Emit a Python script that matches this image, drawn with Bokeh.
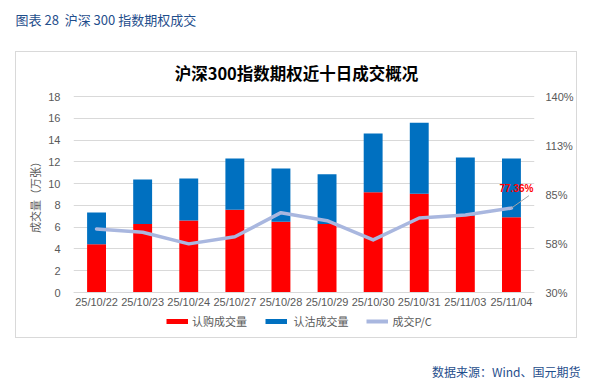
from bokeh.plotting import figure
from bokeh.models import (ColumnDataSource, FactorRange, Range1d, LinearAxis, FixedTicker,
                          Legend, LegendItem, Title, Label)
from bokeh.transform import dodge
from bokeh.core.properties import value
from bokeh.embed import file_html
from bokeh.resources import INLINE

# ---- data ----
dates = ["25/10/22", "25/10/23", "25/10/24", "25/10/27", "25/10/28",
         "25/10/29", "25/10/30", "25/10/31", "25/11/03", "25/11/04"]
call_vol = [4.43, 6.30, 6.62, 7.60, 6.50, 6.29, 9.20, 9.08, 7.05, 6.90]
put_vol = [2.91, 4.07, 3.85, 4.70, 4.88, 4.57, 5.40, 6.52, 5.34, 5.40]
pc_ratio = [65.7, 63.8, 57.3, 61.3, 74.8, 70.3, 59.5, 71.8, 73.5, 77.36]
left_ticks = [0, 2, 4, 6, 8, 10, 12, 14, 16, 18]
right_ticks = [30, 57.5, 85, 112.5, 140]
right_tick_labels = ["30%", "58%", "85%", "113%", "140%"]

CJK = "Noto Sans CJK SC"
LAT = "Liberation Sans"
GRAY = "#595959"
GRID = "#d9d9d9"
RED = "#ff0000"
BLUE = "#0070c0"
LINEC = "#a9b7df"
NAVY = "#1f4e8c"

# ---- layout (pixels) ----
W, H = 593, 383
FRAME_TOP, FRAME_BOT = 51, 337          # frame spans the boxed area vertically
AX_TOP, AX_BOT = 96, 292                # where 18 / 0 (and 140% / 30%) sit
L_LO, L_HI = left_ticks[0], left_ticks[-1]
R_LO, R_HI = right_ticks[0], right_ticks[-1]
lpp = (L_HI - L_LO) / (AX_BOT - AX_TOP)
rpp = (R_HI - R_LO) / (AX_BOT - AX_TOP)

src = ColumnDataSource(dict(date=dates, call=call_vol, put=put_vol, pc=pc_ratio,
                            none=[float("nan")] * len(dates)))

p = figure(width=W, height=H, x_range=FactorRange(*dates, range_padding=0),
           y_range=Range1d(L_LO - (FRAME_BOT - AX_BOT) * lpp, L_HI + (AX_TOP - FRAME_TOP) * lpp),
           output_backend="svg", toolbar_location=None,
           min_border_left=73, min_border_right=59,
           min_border_top=FRAME_TOP, min_border_bottom=H - FRAME_BOT)
p.outline_line_color = None
p.background_fill_color = None
p.border_fill_color = None
g = "linear-gradient(#d9d9d9,#d9d9d9)"
p.styles = {
    "background": (f"{g} 15px 51px / 562px 1px no-repeat, "
                   f"{g} 15px 337px / 562px 1px no-repeat, "
                   f"{g} 15px 51px / 1px 287px no-repeat, "
                   f"{g} 576px 51px / 1px 287px no-repeat, white"),
}

# heading (outermost title) + spacer
p.title.text = "图表 28\u00a0\u00a0沪深 300 指数期权成交"
p.title.align = "left"
p.title.offset = -58
p.title.vertical_align = "top"
p.title.standoff = 0
p.title.text_font = CJK
p.title.text_font_size = "13px"
p.title.text_font_style = "normal"
p.title.text_color = NAVY
p.add_layout(Title(text="\u00a0", text_font_size="1px", standoff=18), "above")

p.extra_y_ranges = {"pc": Range1d(R_LO - (FRAME_BOT - AX_BOT) * rpp,
                                  R_HI + (AX_TOP - FRAME_TOP) * rpp)}

bars = p.vbar_stack(["call", "put"], x="date", width=0.41, color=[RED, BLUE],
                    line_color=None, source=src)
line = p.line(x="date", y="pc", source=src, y_range_name="pc", line_color=LINEC,
              line_width=3.5, line_join="round", line_cap="round")

# leader line + label for last point
last = ColumnDataSource(dict(date=[dates[-1]], pc=[pc_ratio[-1]],
                             txt=[f"{pc_ratio[-1]:.2f}%"]))
p.segment(x0="date", y0="pc", x1=dodge("date", 0.38, range=p.x_range),
          y1=dodge("pc", 7.0), source=last, y_range_name="pc",
          line_color="#a6a6a6", line_width=1)
p.text(x="date", y="pc", text="txt", source=last, y_range_name="pc",
       x_offset=5, y_offset=-20, text_align="center", text_baseline="middle",
       text_color=RED, text_font=value(LAT), text_font_style="bold",
       text_font_size="10px")

# chart title inside the frame
p.add_layout(Label(x=223, y=FRAME_BOT - 72, x_units="screen", y_units="screen",
                   text="沪深300指数期权近十日成交概况", text_font=CJK,
                   text_font_size="16.5px", text_font_style="bold", text_color="black",
                   text_align="center", text_baseline="middle"))

# axes
ax = p.xaxis[0]
ax.fixed_location = 0
ax.axis_line_color = GRID
ax.major_tick_line_color = None
ax.minor_tick_line_color = None
ax.major_tick_out = 0
ax.major_tick_in = 0
ax.major_label_standoff = 3
ax.major_label_text_font = LAT
ax.major_label_text_font_size = "11px"
ax.major_label_text_color = GRAY
p.xgrid.grid_line_color = None

ay = p.yaxis[0]
ay.ticker = FixedTicker(ticks=left_ticks)
ay.bounds = (L_LO, L_HI)
ay.axis_line_color = None
ay.major_tick_line_color = None
ay.minor_tick_line_color = None
ay.major_tick_out = 0
ay.major_tick_in = 0
ay.major_label_standoff = 13
ay.major_label_text_font = LAT
ay.major_label_text_font_size = "11px"
ay.major_label_text_color = GRAY
ay.axis_label = "成交量（万张）"
ay.axis_label_text_font = CJK
ay.axis_label_text_font_size = "11px"
ay.axis_label_text_font_style = "normal"
ay.axis_label_text_color = GRAY
ay.axis_label_standoff = 2
p.ygrid.grid_line_color = GRID
p.ygrid.ticker = FixedTicker(ticks=left_ticks)

ar = LinearAxis(y_range_name="pc", ticker=FixedTicker(ticks=right_ticks), bounds=(R_LO, R_HI))
ar.major_label_overrides = {t: l for t, l in zip(right_ticks, right_tick_labels)}
ar.axis_line_color = None
ar.major_tick_line_color = None
ar.minor_tick_line_color = None
ar.major_tick_out = 0
ar.major_tick_in = 0
ar.major_label_standoff = 11
ar.major_label_text_font = LAT
ar.major_label_text_font_size = "11px"
ar.major_label_text_color = GRAY
p.add_layout(ar, "right")

# legend (inside the frame, below the x axis) with thin swatches (NaN proxies draw nothing)
r_call = p.line(x="date", y="none", source=src, line_color=RED, line_width=5)
r_put = p.line(x="date", y="none", source=src, line_color=BLUE, line_width=5)
r_pc = p.line(x="date", y="none", source=src, line_color=LINEC, line_width=4)
leg = Legend(items=[LegendItem(label="认购成交量", renderers=[r_call]),
                    LegendItem(label=" 认沽成交量", renderers=[r_put]),
                    LegendItem(label="成交P/C", renderers=[r_pc])],
             orientation="horizontal", location=(93, 8),
             glyph_width=22, glyph_height=14, label_height=14, label_standoff=4,
             spacing=18, padding=0, margin=0, border_line_color=None,
             background_fill_alpha=0, label_text_font=CJK,
             label_text_font_size="11px", label_text_color=GRAY)
p.add_layout(leg, "center")

# source note below (spacer + title)
p.add_layout(Title(text="\u00a0", text_font_size="1px", standoff=22), "below")
p.add_layout(Title(text="数据来源：Wind、国元期货", align="right", offset=-46,
                   vertical_align="top", standoff=0,
                   text_font=CJK, text_font_size="12px", text_font_style="normal",
                   text_color=NAVY), "below")

open("out.html", "w").write(file_html(p, INLINE))
